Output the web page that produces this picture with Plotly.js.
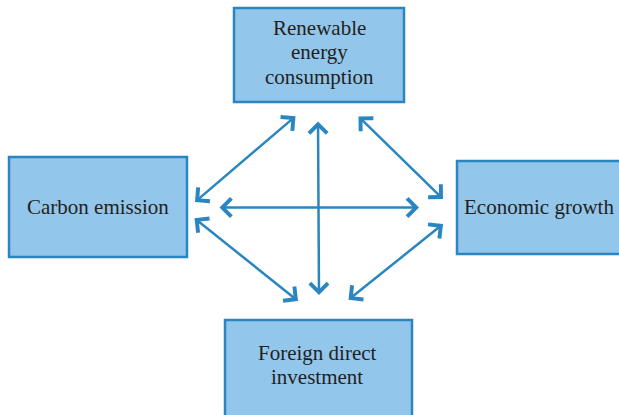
<!DOCTYPE html>
<html>
<head>
<meta charset="utf-8">
<script src="https://cdn.plot.ly/plotly-3.0.1.min.js"></script>
<style>html,body{margin:0;padding:0;background:#fff;}#chart{width:619px;height:415px;}</style>
</head>
<body>
<div id="chart"></div>
<script>
// Node labels
var nodeLabels = ["Renewable<br>energy<br>consumption", "Carbon emission", "Economic growth", "Foreign direct<br>investment"];
// Relationships (bidirectional) between node indices
var links = [[0,1],[0,3],[0,2],[1,2],[1,3],[3,2]];

// Geometry (pixel space: x right, y down)
var boxX0 = [234, 9, 457, 225];
var boxX1 = [404, 187, 630, 412];
var boxY0 = [8, 157, 161, 320];
var boxY1 = [102, 257, 254, 425];
var labelX = [319, 98, 539, 317];
var labelY = [52, 207, 207, 365];
var lineGap = 24.5;
// arrow endpoints per link: [xA, yA, xB, yB]
var arrowGeom = [
  [297,115,195,202],
  [318,120,319,295],
  [357,115,443,199],
  [218,207.5,419,207.5],
  [193,217,298,301],
  [347,301,443,224]
];

var fill = "#93c6eb", edge = "#2a86c0", textCol = "#231f20";
var shapes = [], annotations = [];
for (var i = 0; i < nodeLabels.length; i++) {
  shapes.push({type:"rect", xref:"x", yref:"y", x0:boxX0[i], x1:boxX1[i], y0:boxY0[i], y1:boxY1[i],
    fillcolor:fill, line:{color:edge, width:2.5}, layer:"below"});
  var lines = nodeLabels[i].split("<br>");
  for (var j = 0; j < lines.length; j++) {
    annotations.push({x:labelX[i], y:labelY[i] + (j - (lines.length-1)/2)*lineGap, xref:"x", yref:"y",
      text:lines[j], showarrow:false,
      font:{family:"Liberation Serif, Times New Roman, serif", size:21, color:textCol}, align:"center"});
  }
}
for (var k = 0; k < links.length; k++) {
  var g = arrowGeom[k];
  annotations.push({x:g[2], y:g[3], ax:g[0], ay:g[1], xref:"x", yref:"y", axref:"x", ayref:"y",
    text:"", showarrow:true, arrowside:"end+start", arrowhead:4, startarrowhead:4,
    arrowsize:1.4, startarrowsize:1.4, arrowwidth:2.5, arrowcolor:edge, standoff:0, startstandoff:0});
}

var layout = {
  width:619, height:415,
  margin:{l:0, r:0, t:0, b:0},
  paper_bgcolor:"#ffffff", plot_bgcolor:"#ffffff",
  xaxis:{range:[0,619], visible:false, fixedrange:true},
  yaxis:{range:[415,0], visible:false, fixedrange:true},
  shapes:shapes, annotations:annotations, showlegend:false
};
Plotly.newPlot("chart", [], layout, {staticPlot:true, displayModeBar:false});
</script>
</body>
</html>
